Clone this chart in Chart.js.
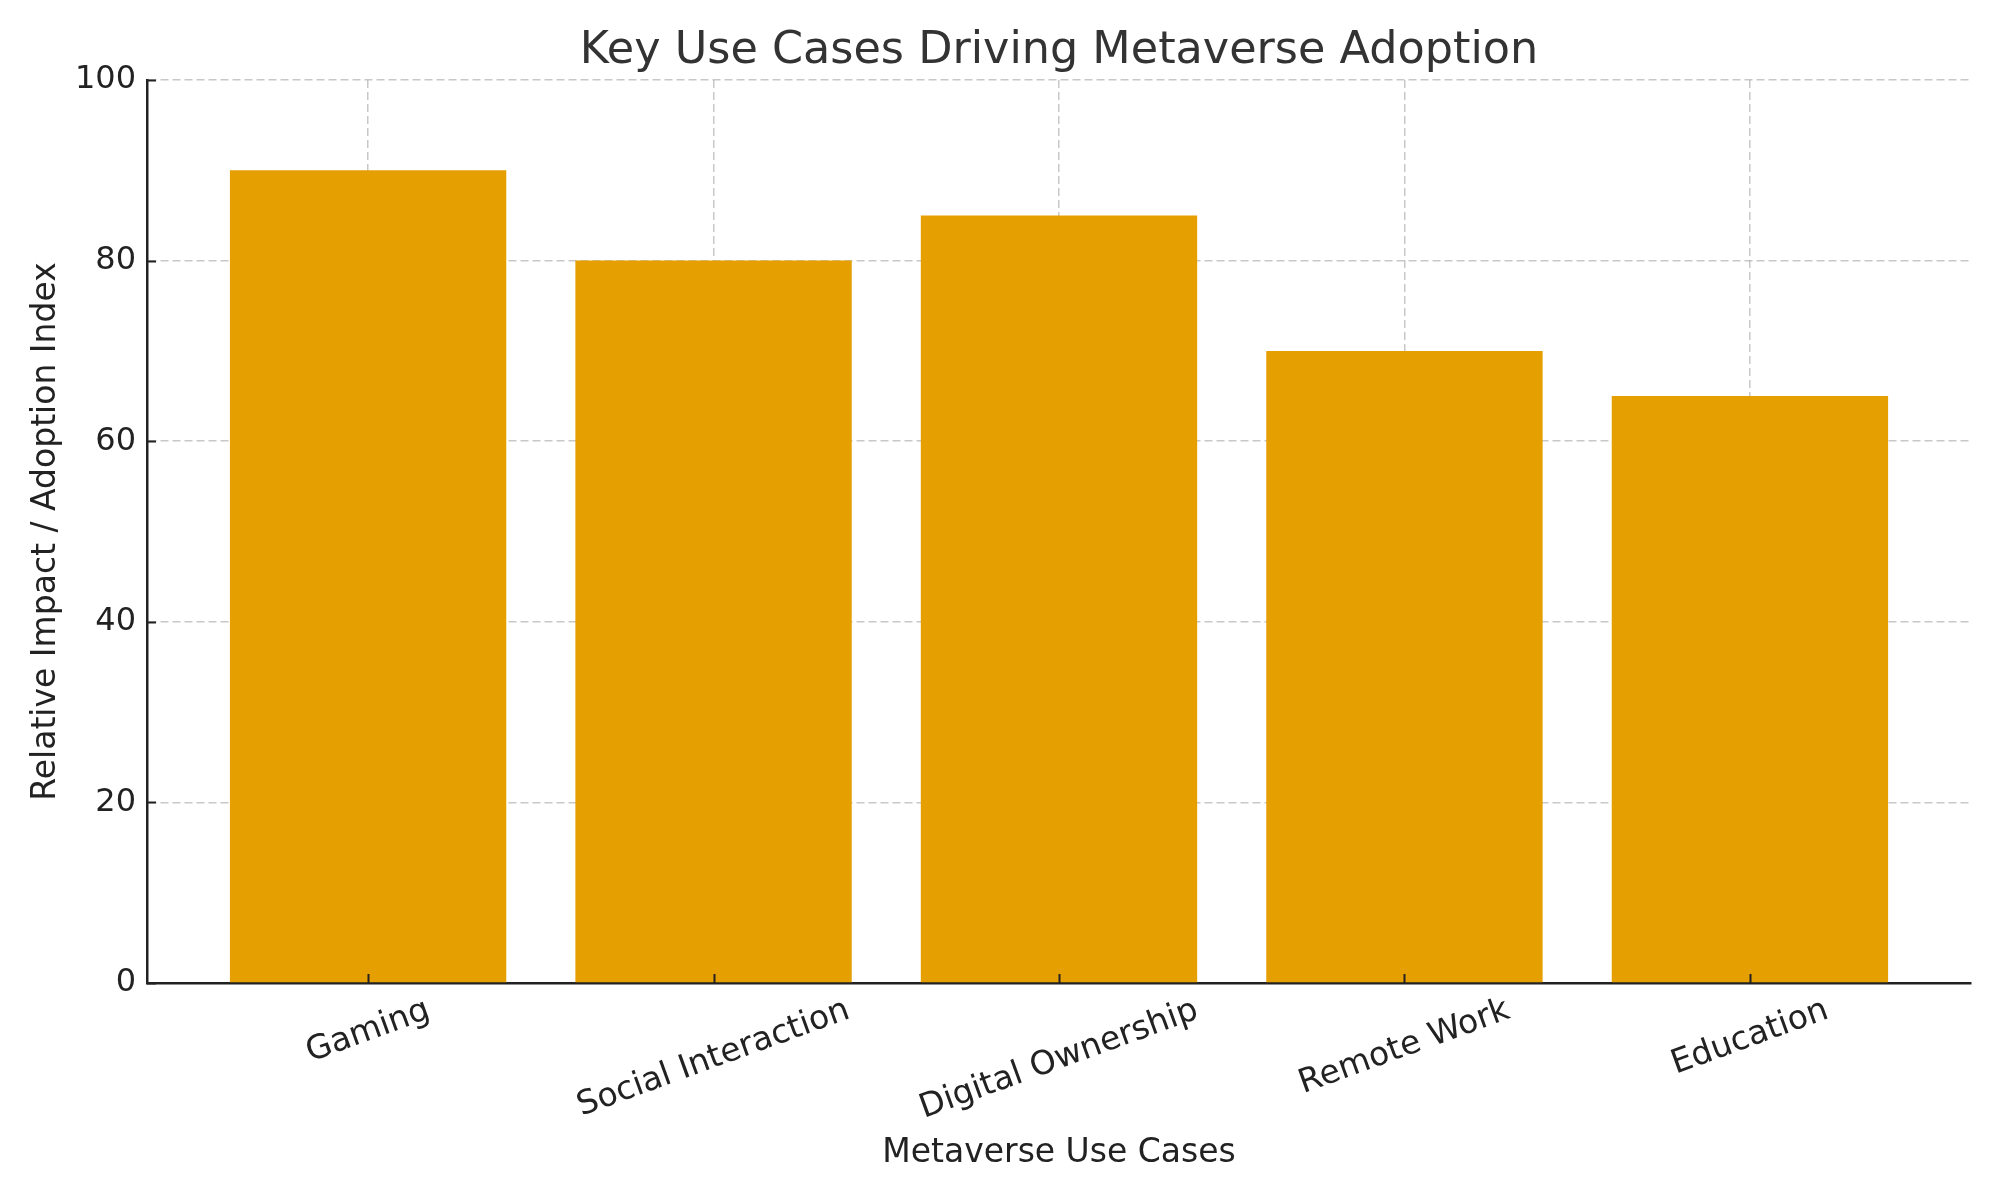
<!DOCTYPE html>
<html>
<head>
<meta charset="utf-8">
<script src="https://cdn.jsdelivr.net/npm/chart.js@4.4.1/dist/chart.umd.min.js"></script>
<style>
    html, body { margin: 0; padding: 0; background: #fff; }
    #wrap { width: 2000px; height: 1200px; }
</style>
</head>
<body>
<div id="wrap"><canvas id="myChart" width="2000" height="1200"></canvas></div>
<script>
const useCases = ["Gaming", "Social Interaction", "Digital Ownership", "Remote Work", "Education"];
const impactIndex = [90, 80, 85, 70, 65];
const yTicks = [0, 20, 40, 60, 80, 100];

const chartTitle = "Key Use Cases Driving Metaverse Adoption";

const FONT = "'DejaVu Sans', sans-serif";
const BAR = "#e69f00";
const GRID = "rgba(176,176,176,0.7)";
const INK = "#222222";

// title centred over the plot area, x tick labels rotated 20deg and
// centred under each tick like matplotlib, inward tick marks
const tickPlugin = {
    id: "tickPlugin",
    afterDraw(chart) {
        const { ctx, chartArea, scales } = chart;
        const x = scales.x, y = scales.y;
        ctx.save();

        ctx.font = "44.5px " + FONT;
        ctx.fillStyle = "#333333";
        ctx.textAlign = "center";
        ctx.textBaseline = "middle";
        ctx.fillText(chartTitle, (chartArea.left + chartArea.right) / 2, 51);

        ctx.strokeStyle = INK;
        ctx.lineWidth = 2;
        useCases.forEach((_, i) => {
            const px = Math.round(x.getPixelForValue(i)) + 0.5;
            ctx.beginPath();
            ctx.moveTo(px, chartArea.bottom);
            ctx.lineTo(px, chartArea.bottom - 9);
            ctx.stroke();
        });
        yTicks.forEach((v) => {
            const py = Math.round(y.getPixelForValue(v)) + 0.5;
            ctx.beginPath();
            ctx.moveTo(chartArea.left, py);
            ctx.lineTo(chartArea.left + 9, py);
            ctx.stroke();
        });

        const ang = 20 * Math.PI / 180;
        const size = 33;
        ctx.font = size + "px " + FONT;
        ctx.fillStyle = INK;
        useCases.forEach((lab, i) => {
            const w = ctx.measureText(lab).width;
            const bh = w * Math.sin(ang) + size * Math.cos(ang);
            const cx = x.getPixelForValue(i);
            const cy = chartArea.bottom + 11 + bh / 2;
            ctx.save();
            ctx.translate(cx, cy);
            ctx.rotate(-ang);
            ctx.fillText(lab, 0, 0);
            ctx.restore();
        });
        ctx.restore();
    },
};

const ctx = document.getElementById("myChart");

const chart = new Chart(ctx, {
    type: "bar",
    data: {
        datasets: [
            {
                label: "Relative Impact / Adoption Index",
                data: impactIndex.map((v, i) => ({ x: i, y: v })),
                backgroundColor: BAR,
                borderWidth: 0,
                barPercentage: 0.8,
                categoryPercentage: 1.0,
            },
        ],
    },
    options: {
        responsive: false,
        animation: false,
        layout: { padding: { left: 0, right: 29, top: 80, bottom: 0 } },
        plugins: {
            legend: { display: false },
            tooltip: { enabled: false },
            title: { display: false },
        },
        scales: {
            x: {
                type: "linear",
                min: -0.64,
                max: 4.64,
                offset: false,
                z: 1,
                afterFit(scale) { scale.height = 217; },
                ticks: { display: false, stepSize: 1, includeBounds: false },
                grid: {
                    color: GRID,
                    lineWidth: 1.5,
                    drawTicks: false,
                    offset: false,
                },
                border: { display: true, color: INK, width: 2.5, dash: [8, 4] },
                title: {
                    display: true,
                    text: "Metaverse Use Cases",
                    color: INK,
                    font: { family: FONT, size: 33 },
                    padding: { top: 0, bottom: 27 },
                },
            },
            y: {
                min: 0,
                max: 100,
                z: 1,
                afterFit(scale) { scale.width = 147; },
                afterBuildTicks(scale) { scale.ticks = yTicks.map((v) => ({ value: v })); },
                ticks: {
                    color: INK,
                    padding: 11,
                    font: { family: FONT, size: 32 },
                },
                grid: {
                    color: GRID,
                    lineWidth: 1.5,
                    drawTicks: false,
                },
                border: { display: true, color: INK, width: 2.5, dash: [8, 4] },
                title: {
                    display: true,
                    text: "Relative Impact / Adoption Index",
                    color: INK,
                    font: { family: FONT, size: 33 },
                    padding: { top: 27, bottom: 0 },
                },
            },
        },
    },
    plugins: [tickPlugin],
});
</script>
</body>
</html>
